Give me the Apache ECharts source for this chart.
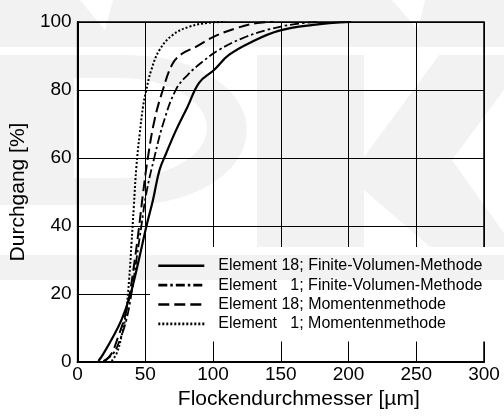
<!DOCTYPE html>
<html>
<head>
<meta charset="utf-8">
<script src="https://cdn.jsdelivr.net/npm/echarts@6/dist/echarts.min.js"></script>
<style>html,body{margin:0;padding:0;background:#fff}#c{width:504px;height:418px}</style>
</head>
<body>
<div id="c"></div>
<script>
// Data (x = Flockendurchmesser [µm], y = Durchgang [%])
var xTicks = [0, 50, 100, 150, 200, 250, 300];
var yTicks = [0, 20, 40, 60, 80, 100];
var seriesNames = [
  'Element 18; Finite-Volumen-Methode',
  'Element   1; Finite-Volumen-Methode',
  'Element 18; Momentenmethode',
  'Element   1; Momentenmethode'
];
var el18FVM = [[15.4,0.3],[19,2.4],[26.3,7.5],[32.4,12.4],[38.5,19.2],[44.6,29],[50.7,39.8],[55.6,47.6],[60.5,56.5],[65.4,61.4],[72.7,68.2],[81.2,75.1],[89.8,82.2],[100.7,85.9],[111.7,90.3],[128.8,94.2],[148.3,97.4],[172.7,99.1],[202,100]];
var el1FVM = [[19,0.3],[26.3,2.5],[31.2,6.5],[36,12.4],[39.8,20.2],[43.4,30],[47,39.8],[50.7,49.6],[56.8,60.4],[64,71.2],[72.7,80.2],[81.2,84.4],[92.2,88.3],[104.4,91.8],[121.5,95.2],[141,97.8],[160.5,99.4],[177.6,100]];
var el18Mom = [[20.2,0.3],[25.1,2.5],[30,7.5],[34.9,13.3],[38.5,20.2],[42.2,30],[45.4,39.8],[48.3,49.6],[52,60.4],[56.8,71.2],[62.9,80],[70.2,87.8],[77.6,90.8],[87.3,92.7],[100.7,95.7],[116.6,98.1],[131.2,99.6],[144.6,100]];
var el1Mom = [[25.1,0.3],[28.8,2.5],[32.4,7.5],[35.6,14.3],[38,24.1],[39.8,34.9],[41.5,45.7],[43.4,57.5],[45.9,67.3],[48.3,75.1],[50.7,80],[54.4,85.9],[60.5,91.8],[70.2,96.2],[82.4,98.6],[97,99.8],[109.3,100]];

var FONT = '"Liberation Sans", Arial, sans-serif';
var chart = echarts.init(document.getElementById('c'), null, {renderer: 'canvas'});

function mkSeries(name, data, type, width) {
  return {
    name: name, type: 'line', data: data, symbol: 'none', showSymbol: false,
    smooth: 0.4, clip: true,
    lineStyle: {color: '#000', width: width, type: type, cap: 'butt', join: 'round'},
    itemStyle: {color: '#000'},
    emphasis: {disabled: true}, animation: false, z: 3
  };
}

// faint background watermark (decoration)
function halfEllipse(cx, cy, rx, ry, reverse) {
  var pts = [];
  for (var i = 0; i <= 24; i++) {
    var a = -Math.PI / 2 + Math.PI * i / 24;
    pts.push([cx + rx * Math.cos(a), cy + ry * Math.sin(a)]);
  }
  return reverse ? pts.reverse() : pts;
}
var dOuter = [[0, 55]].concat(halfEllipse(130, 130, 117, 75, false)).concat([[0, 205], [0, 178], [74, 178]]);
var dInner = halfEllipse(120, 128, 87, 50, true).concat([[74, 78], [74, 178], [0, 178]]);
var dShape = dOuter.concat(dInner);

var wm = 'rgba(0,0,0,0.05)';
var wmElems = [
  {type: 'polygon', shape: {points: [[0,0],[80,0],[105,30],[113,0],[392,0],[418,30],[425,0],[504,0],[504,47],[0,47]]}},
  {type: 'polygon', shape: {points: dShape}},
  {type: 'rect', shape: {x: 257, y: 55, width: 107, height: 192}},
  {type: 'polygon', shape: {points: [[364,157],[439,55],[504,55],[504,90],[452,160],[364,160]]}},
  {type: 'polygon', shape: {points: [[364,160],[452,160],[504,233],[504,247],[430,247],[364,190]]}},
  {type: 'rect', shape: {x: 0, y: 255, width: 504, height: 25}}
].map(function (e) {
  e.style = {fill: wm};
  e.silent = true;
  e.z = 100;
  return e;
});

chart.setOption({
  animation: false,
  backgroundColor: '#fff',
  textStyle: {fontFamily: FONT, color: '#000'},
  grid: {left: 74, right: 20, top: 22, bottom: 56, show: true, borderColor: '#000', borderWidth: 1.5, backgroundColor: 'transparent'},
  xAxis: {
    type: 'value', min: 0, max: 300, interval: 50,
    name: 'Flockendurchmesser [\u00b5m]', nameLocation: 'middle', nameGap: 22,
    nameTextStyle: {fontSize: 21, color: '#000', fontFamily: FONT, padding: [0, 0, 0, 36]},
    axisLine: {show: true, onZero: false, lineStyle: {color: '#000', width: 2}},
    axisTick: {show: false},
    axisLabel: {fontSize: 19, color: '#000', margin: 3, fontFamily: FONT,
      formatter: function (v) { return xTicks.indexOf(v) >= 0 ? String(v) : ''; }},
    splitLine: {show: true, lineStyle: {color: '#000', width: 1}}
  },
  yAxis: {
    type: 'value', min: 0, max: 100, interval: 20,
    name: 'Durchgang [%]', nameLocation: 'middle', nameGap: 46, nameRotate: 90,
    nameTextStyle: {fontSize: 21, color: '#000', fontFamily: FONT},
    axisLine: {show: true, onZero: false, lineStyle: {color: '#000', width: 2}},
    axisTick: {show: false},
    axisLabel: {fontSize: 19, color: '#000', margin: 6, fontFamily: FONT,
      formatter: function (v) { return yTicks.indexOf(v) >= 0 ? String(v) : ''; }},
    splitLine: {show: true, lineStyle: {color: '#000', width: 1}}
  },
  legend: {
    orient: 'vertical', left: 150, top: 247,
    padding: [9, 4, 8, 7], backgroundColor: '#fff',
    itemWidth: 46, itemHeight: 10, itemGap: 0,
    data: seriesNames,
    itemStyle: {color: 'transparent', borderWidth: 0, opacity: 0},
    lineStyle: {width: 2.6},
    textStyle: {fontSize: 16, color: '#000', fontFamily: FONT, lineHeight: 19.4, padding: [0, 0, 0, 9]},
    selectedMode: false
  },
  graphic: {elements: wmElems},
  series: [
    mkSeries(seriesNames[0], el18FVM, 'solid', 2.2),
    mkSeries(seriesNames[1], el1FVM, [9, 3, 2.5, 3], 1.8),
    mkSeries(seriesNames[2], el18Mom, [11, 5], 2),
    mkSeries(seriesNames[3], el1Mom, [2, 2], 2)
  ]
});
</script>
</body>
</html>
